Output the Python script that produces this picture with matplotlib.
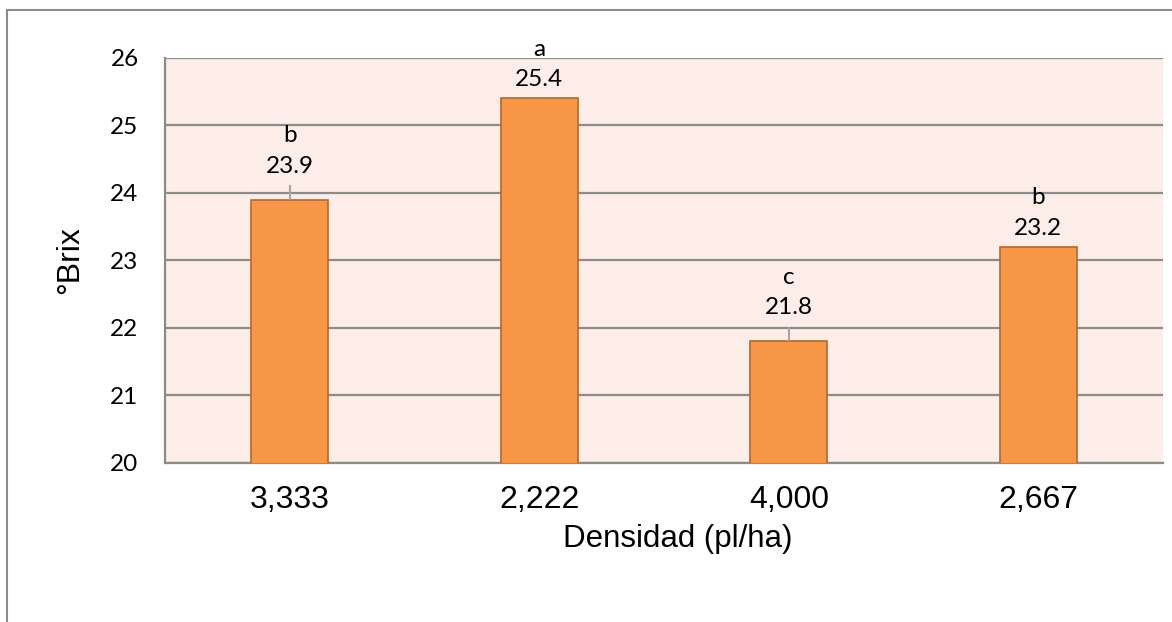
import matplotlib
matplotlib.use("Agg")
import matplotlib.pyplot as plt
from matplotlib.lines import Line2D

# Data
densities = ["3,333", "2,222", "4,000", "2,667"]
brix = [23.9, 25.4, 21.8, 23.2]
err_up = [0.22, 0.0, 0.22, 0.0]
letters = ["b", "a", "c", "b"]
yticks = [20, 21, 22, 23, 24, 25, 26]

fig = plt.figure(figsize=(11.72, 6.22), dpi=100)
fig.patch.set_facecolor("white")

# Outer chart frame (top and left edges)
fig.add_artist(Line2D([7 / 1172, 7 / 1172], [0, 1 - 10 / 622], transform=fig.transFigure,
                      color="#8c8c8c", lw=1.5))
fig.add_artist(Line2D([7 / 1172, 1], [1 - 10 / 622, 1 - 10 / 622], transform=fig.transFigure,
                      color="#8c8c8c", lw=1.5))

ax = fig.add_axes([165 / 1172, 1 - 463 / 622, (1163 - 165) / 1172, (463 - 58) / 622])
ax.set_facecolor("#FCEDE8")

x = list(range(len(densities)))
ax.bar(x, brix, width=0.31, bottom=0, color="#F79646", edgecolor="#B5682F",
       linewidth=1.2, zorder=3)
ax.errorbar(x, brix, yerr=[[0] * len(err_up), err_up], fmt="none",
            ecolor="#A6A6A6", elinewidth=1.5, capsize=0, zorder=4)

ax.set_ylim(20, 26)
ax.set_xlim(-0.5, 3.5)
ax.set_yticks(yticks)
ax.set_yticklabels([str(t) for t in yticks], fontfamily="Lato", fontsize=17.5)
ax.set_xticks(x)
ax.set_xticklabels(densities, fontfamily="Liberation Sans", fontsize=23)
ax.tick_params(axis="y", length=0, pad=19)
ax.tick_params(axis="x", length=0, pad=16)
ax.yaxis.grid(True, color="#8c8c8c", linewidth=1.6, zorder=0)
ax.set_axisbelow(True)

for side in ["top", "right"]:
    ax.spines[side].set_visible(False)
for side in ["left", "bottom"]:
    ax.spines[side].set_color("#8c8c8c")
    ax.spines[side].set_linewidth(1.6)

for xi, v, e, lt in zip(x, brix, err_up, letters):
    ax.annotate(f"{lt}\n{v:.1f}", (xi, v + e), xytext=(0, 6), textcoords="offset points",
                ha="center", va="bottom", fontfamily="Lato", fontsize=17.5,
                linespacing=1.55, annotation_clip=False, zorder=5)

ax.set_ylabel("°Brix", fontfamily="Liberation Sans", fontsize=23, labelpad=18)
ax.set_xlabel("Densidad (pl/ha)", fontfamily="Liberation Sans", fontsize=22.5)
ax.xaxis.set_label_coords(0.514, -0.15)

fig.savefig("out.png", dpi=100)
